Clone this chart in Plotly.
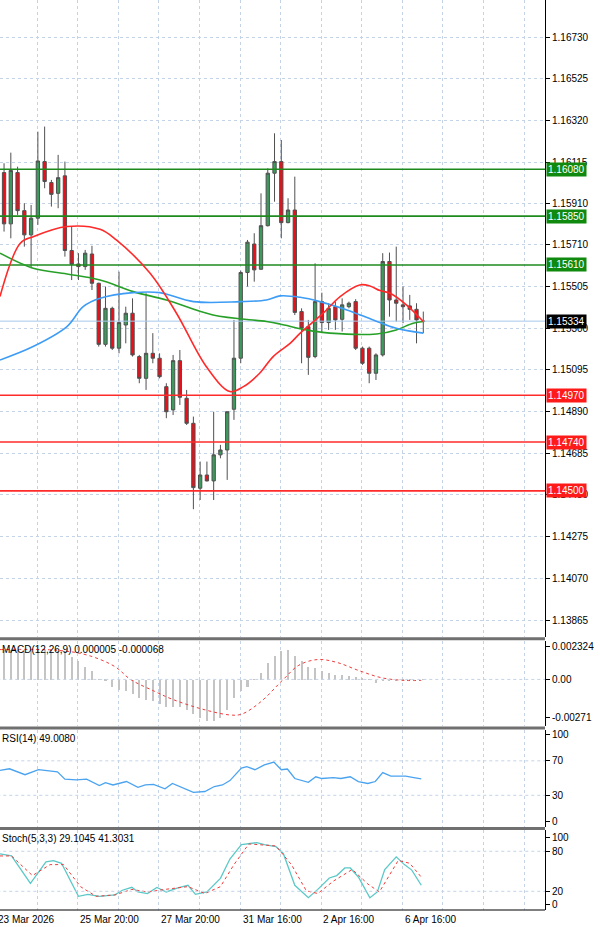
import plotly.graph_objects as go
from plotly.subplots import make_subplots

# ---------------- data ----------------
bar_idx = list(range(63))
opens = [1.16064,1.15812,1.16064,1.15877,1.15758,1.15840,1.16118,1.16015,1.15962,1.16048,
         1.15681,1.15615,1.15602,1.15664,1.15520,1.15220,1.15397,1.15201,1.15315,1.15373,
         1.15160,1.15053,1.15176,1.15152,1.15012,1.14898,1.15140,1.14955,1.14832,1.14513,
         1.14578,1.14549,1.14677,1.14701,1.14901,1.15152,1.15573,1.15713,1.15589,1.15803,
         1.16061,1.16118,1.15818,1.15880,1.15381,1.15307,1.15160,1.15430,1.15327,1.15405,
         1.15343,1.15405,1.15430,1.15201,1.15201,1.15078,1.15168,1.15627,1.15438,1.15414,
         1.15409,1.15392,1.15332]
highs = [1.16110,1.16162,1.16093,1.15913,1.15905,1.16265,1.16290,1.16028,1.16151,1.16118,
         1.15799,1.15668,1.15684,1.15704,1.15523,1.15504,1.15405,1.15577,1.15405,1.15446,
         1.15168,1.15471,1.15275,1.15176,1.15029,1.15168,1.15192,1.14996,1.14865,1.14644,
         1.14644,1.14889,1.14726,1.14889,1.15340,1.15582,1.15733,1.15766,1.15962,1.16085,
         1.16257,1.16224,1.15938,1.16044,1.15397,1.15340,1.15618,1.15474,1.15422,1.15430,
         1.15446,1.15430,1.15442,1.15209,1.15209,1.15176,1.15668,1.15671,1.15700,1.15504,
         1.15463,1.15422,1.15381]
lows = [1.15774,1.15741,1.15856,1.15700,1.15594,1.15807,1.15987,1.15897,1.15889,1.15651,
        1.15536,1.15536,1.15586,1.15487,1.15209,1.15209,1.15192,1.15176,1.15225,1.15160,
        1.15029,1.14996,1.15127,1.15053,1.14857,1.14873,1.14922,1.14824,1.14410,1.14455,
        1.14546,1.14455,1.14660,1.14554,1.14849,1.15127,1.15504,1.15528,1.15586,1.15799,
        1.15921,1.15741,1.15815,1.15364,1.15127,1.15070,1.15152,1.15275,1.15291,1.15291,
        1.15283,1.15397,1.15192,1.15119,1.15029,1.15045,1.15160,1.15356,1.15332,1.15324,
        1.15340,1.15225,1.15275]
closes = [1.15812,1.16074,1.15877,1.15758,1.15840,1.16121,1.16020,1.15957,1.16039,1.15681,
          1.15613,1.15602,1.15668,1.15520,1.15220,1.15397,1.15201,1.15327,1.15373,1.15168,
          1.15053,1.15176,1.15152,1.15061,1.14889,1.15140,1.14960,1.14832,1.14516,1.14578,
          1.14549,1.14677,1.14701,1.14889,1.15152,1.15573,1.15722,1.15586,1.15803,1.16061,
          1.16118,1.15818,1.15880,1.15377,1.15299,1.15156,1.15430,1.15327,1.15397,1.15340,
          1.15414,1.15422,1.15201,1.15127,1.15078,1.15168,1.15627,1.15438,1.15422,1.15405,
          1.15392,1.15340,1.15334]

ma_red_x = [-0.6,2.4,4.3,9.3,14.2,16.6,21.6,25.5,29.9,33.4,35.4,37.8,39.8,42.3,43.8,47.2,49.7,52.6,54.1,55.6,57.1,59.5,62]
ma_red_y = [1.15455,1.15717,1.15749,1.15799,1.15785,1.15733,1.15569,1.15373,1.15111,1.14988,1.15012,1.15078,1.15160,1.15225,1.15275,1.15373,1.15455,1.15512,1.15507,1.15484,1.15471,1.15414,1.15332]
ma_blue_x = [-0.6,4.3,9.3,11.7,14.2,19.1,23,28,34.9,38.8,40.8,43.8,46.7,50.7,54.6,58,62]
ma_blue_y = [1.15143,1.15209,1.15307,1.15405,1.15446,1.15474,1.15474,1.15430,1.15430,1.15438,1.15458,1.15451,1.15430,1.15389,1.15340,1.15299,1.15275]
ma_green_x = [-0.6,4.3,9.3,14.2,19.1,24,30.9,38.8,40.8,44.7,48.2,55.1,58,60.5,62]
ma_green_y = [1.15668,1.15594,1.15566,1.15536,1.15479,1.15438,1.15364,1.15332,1.15320,1.15291,1.15275,1.15271,1.15291,1.15324,1.15332]

res_levels = [1.16080, 1.15850, 1.15610]
sup_levels = [1.14970, 1.14740, 1.14500]
last_price = 1.15334
price_ticks = [1.16730,1.16525,1.16320,1.16115,1.15910,1.15710,1.15505,1.15300,1.15095,
               1.14890,1.14685,1.14480,1.14275,1.14070,1.13865]

macd_hist = [2.1,2.1,2.1,2.1,2.1,2.1,2.1,2.1,2.0,2.0,1.6,1.3,0.9,0.6,0.05,-0.1,-0.5,-0.7,-0.8,-1.0,
             -1.3,-1.4,-1.5,-1.7,-1.9,-1.9,-1.9,-2.1,-2.4,-2.7,-2.9,-2.9,-2.7,-2.1,-1.3,-0.8,-0.5,0.02,
             0.5,1.2,1.7,2.0,2.1,1.7,1.3,0.9,0.8,0.6,0.5,0.35,0.35,0.3,0.2,0.1,0.02,-0.2,-0.1,
             -0.05,-0.03,-0.02,-0.01,0.0,0.005]
macd_sig_x = [-0.6,7.9,12.4,16.4,18.7,22.1,24.9,29.4,33.4,35.1,37.9,41.3,43.6,46.4,49.2,52.6,56,59.4,61.7]
macd_sig_y = [2.1,2.05,1.7,0.9,0.0,-0.8,-1.4,-2.1,-2.5,-2.45,-1.6,0.0,1.0,1.4,1.2,0.6,0.1,-0.07,-0.068]

rsi_x = [-0.6,0.8,3.1,5.1,7.9,9.0,10.7,12.2,14.1,15.0,16.1,18.1,19.8,20.9,22.1,23.8,24.9,26.6,28.0,29.7,
         31.1,32.3,33.4,35.1,35.9,37.1,38.5,39.9,41.0,41.9,43.0,45.0,46.1,47.0,48.7,49.8,51.2,52.4,53.8,
         54.9,56.0,57.2,59.4,60.6,61.7]
rsi_y = [59,60.8,53.9,59.7,57.3,48.8,47.8,48.8,41.3,44.7,42,46,39.2,42,42.6,37.5,43.7,38.5,33.4,34.4,
         40.2,42,47.1,61.5,63.2,59.7,65.2,68.6,59.7,60.5,49.5,45,51.5,49.5,50.5,49.5,51.5,46,43.7,
         46,56.3,52.2,52.2,50.5,49.0]

st_main_x = [-0.6,1.1,3.9,6.2,7.3,8.5,11.0,12.4,14.1,16.4,17.5,18.9,19.8,21.2,22.6,24.0,25.7,27.2,28.3,30.0,
             32.0,33.4,35.1,37.4,38.5,40.2,41.3,43.0,45.0,46.4,48.1,49.2,50.4,51.2,52.4,54.1,55.2,56.3,58.0,
             59.2,60.3,61.7]
st_main_y = [76,73,32,64,66,62,12.5,15.4,12.5,14.6,21.6,26,19,16.7,25.8,19,25,29,15.4,19,
             39.4,68.4,90,93,90,87,76.7,29,10.4,22.9,40,43.6,55,55,41.5,10.4,19,52.7,71.7,
             60,51.8,29.1]
st_sig_x = [-0.6,1.1,4.2,6.8,8.8,11.3,13.6,16.4,18.9,21.2,23.8,27.2,29.7,32.0,34.0,36.2,40.2,42.5,44.7,46.4,
            48.7,51.5,53.8,55.5,58.3,60.0,61.7]
st_sig_y = [73,73,43.6,60,60,27,12.5,14.6,22.9,19,22.9,27,16.7,27,60,91,88,60,20.8,16.7,
            35.3,52.7,31,19,66.3,62,41.3]

grid_x = [4.9 + 6 * k for k in range(13)]
xlabel_pos = [10.9, 22.9, 35.0, 46.9, 59.0]
xlabel_txt = ["25 Mar 20:00", "27 Mar 20:00", "31 Mar 16:00", "2 Apr 16:00", "6 Apr 16:00"]
first_label = "23 Mar 2026"

# ---------------- figure ----------------
fig = make_subplots(rows=4, cols=1, shared_xaxes=True)
GRID = "#c5d3e6"
FONT = "Liberation Sans"

fig.add_trace(go.Candlestick(x=bar_idx, open=opens, high=highs, low=lows, close=closes,
    increasing=dict(fillcolor="#3c9a5c", line=dict(color="#505050", width=1)),
    decreasing=dict(fillcolor="#e8101a", line=dict(color="#505050", width=1)),
    whiskerwidth=0, showlegend=False), row=1, col=1)

for lv in res_levels:
    fig.add_trace(go.Scatter(x=[-1, 80], y=[lv, lv], mode="lines",
                             line=dict(color="#1e8a1e", width=1.6), showlegend=False), row=1, col=1)
for lv in sup_levels:
    fig.add_trace(go.Scatter(x=[-1, 80], y=[lv, lv], mode="lines",
                             line=dict(color="#ff2a2a", width=1.6), showlegend=False), row=1, col=1)
fig.add_trace(go.Scatter(x=[-1, 80], y=[last_price, last_price], mode="lines",
                         line=dict(color="#a8c8ec", width=1), showlegend=False), row=1, col=1)

fig.add_trace(go.Scatter(x=ma_green_x, y=ma_green_y, mode="lines", line=dict(color="#27a027", width=1.6, shape="spline"), showlegend=False), row=1, col=1)
fig.add_trace(go.Scatter(x=ma_blue_x, y=ma_blue_y, mode="lines", line=dict(color="#3d9cf5", width=1.6, shape="spline"), showlegend=False), row=1, col=1)
fig.add_trace(go.Scatter(x=ma_red_x, y=ma_red_y, mode="lines", line=dict(color="#ff2a2a", width=1.6, shape="spline"), showlegend=False), row=1, col=1)

fig.add_trace(go.Bar(x=bar_idx, y=[v / 1000 for v in macd_hist], marker=dict(color="#c4c4c4", line=dict(width=0)),
                     width=0.3, showlegend=False), row=2, col=1)
fig.add_trace(go.Scatter(x=macd_sig_x, y=[v / 1000 for v in macd_sig_y], mode="lines",
                         line=dict(color="#f03c3c", width=1, dash="dot", shape="spline"), showlegend=False), row=2, col=1)

fig.add_trace(go.Scatter(x=rsi_x, y=rsi_y, mode="lines", line=dict(color="#4aa3f0", width=1.3), showlegend=False), row=3, col=1)

fig.add_trace(go.Scatter(x=st_main_x, y=st_main_y, mode="lines", line=dict(color="#5cc8c8", width=1.3), showlegend=False), row=4, col=1)
fig.add_trace(go.Scatter(x=st_sig_x, y=st_sig_y, mode="lines", line=dict(color="#f03c3c", width=1, dash="dot"), showlegend=False), row=4, col=1)

doms = {1: [0.300, 1.0], 2: [0.202, 0.296], 3: [0.091, 0.198], 4: [0.0, 0.088]}
for r in range(1, 5):
    fig.update_xaxes(row=r, col=1, range=[-0.6, 80], tickvals=grid_x, showticklabels=False,
                     showgrid=True, gridcolor=GRID, griddash="dot", gridwidth=1, zeroline=False,
                     rangeslider=dict(visible=False), showline=False)
    fig.update_yaxes(row=r, col=1, domain=doms[r], side="right", showline=True, linecolor="#000",
                     linewidth=1, ticks="outside", ticklen=4, tickcolor="#000",
                     tickfont=dict(family=FONT, size=10, color="#000"), zeroline=False,
                     showgrid=True, gridcolor=GRID, griddash="dot")

fig.update_yaxes(row=1, col=1, range=[1.13782, 1.16912], tickvals=price_ticks,
                 ticktext=[f"{v:.5f}" for v in price_ticks])
fig.update_yaxes(row=2, col=1, range=[-0.00329, 0.00273], tickvals=[0.002324, 0.0, -0.00271],
                 ticktext=["0.002324", "0.00", "-0.00271"], showgrid=False)
fig.update_yaxes(row=3, col=1, range=[-7, 106], tickvals=[100, 70, 30, 0], showgrid=False)
fig.update_yaxes(row=4, col=1, range=[-8, 112], tickvals=[100, 80, 20, 0], showgrid=False)

for r, vals in [(2, [0.0]), (3, [70, 30]), (4, [80, 20])]:
    for v in vals:
        fig.add_trace(go.Scatter(x=[-1, 80], y=[v, v], mode="lines",
                                 line=dict(color=GRID, width=1, dash="dot"), showlegend=False,
                                 hoverinfo="skip"), row=r, col=1)

ann = []
for lv in res_levels:
    ann.append(dict(xref="paper", yref="y", x=1, y=lv, xanchor="left", xshift=1, text=f"{lv:.5f}",
                    showarrow=False, bgcolor="#0f8a0f", font=dict(family=FONT, size=10, color="white"), borderpad=1))
for lv in sup_levels:
    ann.append(dict(xref="paper", yref="y", x=1, y=lv, xanchor="left", xshift=1, text=f"{lv:.5f}",
                    showarrow=False, bgcolor="#ff1a1a", font=dict(family=FONT, size=10, color="white"), borderpad=1))
ann.append(dict(xref="paper", yref="y", x=1, y=last_price, xanchor="left", xshift=1, text=f"{last_price:.5f}",
                showarrow=False, bgcolor="#000000", font=dict(family=FONT, size=10, color="white"), borderpad=1))
for txt, yy in [("MACD(12,26,9) 0.000005 -0.000068", 0.296), ("RSI(14) 49.0080", 0.198),
                ("Stoch(5,3,3) 29.1045 41.3031", 0.088)]:
    ann.append(dict(xref="paper", yref="paper", x=0, y=yy, xanchor="left", yanchor="top", yshift=-1,
                    text=txt, showarrow=False, font=dict(family=FONT, size=10, color="#000")))
ann.append(dict(xref="paper", yref="paper", x=0, y=0, xanchor="left", yanchor="top", yshift=-2, xshift=-4,
                text=first_label, showarrow=False, font=dict(family=FONT, size=10, color="#000")))
for p, t in zip(xlabel_pos, xlabel_txt):
    ann.append(dict(xref="x4", yref="paper", x=p, y=0, xanchor="left", yanchor="top", yshift=-2,
                    text=t, showarrow=False, font=dict(family=FONT, size=10, color="#000")))

shapes = []
for yy in [0.298, 0.2, 0.0895]:
    shapes.append(dict(type="line", xref="paper", yref="paper", x0=0, x1=1, y0=yy, y1=yy,
                       line=dict(color="#707070", width=3)))
shapes.append(dict(type="line", xref="paper", yref="paper", x0=0, x1=1, y0=0, y1=0,
                   line=dict(color="#000", width=1)))

fig.update_layout(width=600, height=927, margin=dict(l=0, r=55, t=0, b=17),
                  paper_bgcolor="white", plot_bgcolor="white", annotations=ann, shapes=shapes,
                  bargap=0, font=dict(family=FONT, size=10))
fig.write_html("out.html", config={"displayModeBar": False})

with open("out.html", "r", encoding="utf-8") as fh:
    html = fh.read()
html = html.replace("<head>", "<head><style>html,body{margin:0;padding:0;overflow:hidden;}</style>", 1)
with open("out.html", "w", encoding="utf-8") as fh:
    fh.write(html)
